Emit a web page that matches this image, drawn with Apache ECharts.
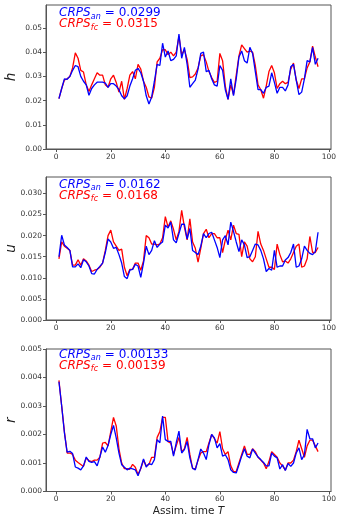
<!DOCTYPE html>
<html><head><meta charset="utf-8">
<script src="https://cdn.jsdelivr.net/npm/echarts@6/dist/echarts.min.js"></script>
<style>html,body{margin:0;padding:0;background:#fff}#c{width:337px;height:515px}</style>
</head><body><div id="c"></div>
<script>
const steps = [1,2,3,4,5,6,7,8,9,10,11,12,13,14,15,16,17,18,19,20,21,22,23,24,25,26,27,28,29,30,31,32,33,34,35,36,37,38,39,40,41,42,43,44,45,46,47,48,49,50,51,52,53,54,55,56,57,58,59,60,61,62,63,64,65,66,67,68,69,70,71,72,73,74,75,76,77,78,79,80,81,82,83,84,85,86,87,88,89,90,91,92,93,94,95,96];

const hAn = [.0208,.025,.029,.0288,.030,.0325,.0345,.034,.030,.028,.0265,.0222,.025,.0265,.0276,.0276,.0276,.0272,.0255,.027,.027,.026,.0245,.022,.0207,.022,.026,.029,.0325,.0333,.0315,.028,.022,.0186,.0215,.028,.035,.0345,.0437,.038,.0405,.0365,.037,.0385,.0475,.0375,.042,.035,.0255,.027,.0285,.033,.0395,.040,.032,.0325,.029,.0265,.026,.0345,.0325,.0245,.0205,.029,.022,.029,.038,.0405,.0365,.0355,.042,.0395,.032,.0245,.0245,.023,.0255,.026,.0315,.0275,.023,.0255,.0255,.024,.0265,.034,.035,.0285,.0225,.0235,.029,.0365,.036,.042,.035,.0375];
const hFc = [.0208,.025,.0285,.029,.030,.0335,.0397,.0375,.0325,.0318,.0265,.0238,.0265,.029,.0315,.0305,.0305,.0265,.0255,.029,.0305,.0275,.0235,.028,.0205,.025,.0305,.032,.029,.035,.033,.028,.0255,.0215,.021,.0255,.036,.0375,.041,.041,.039,.040,.0385,.040,.0465,.039,.041,.037,.0295,.0298,.031,.0335,.0385,.039,.036,.032,.0295,.0275,.028,.0395,.0365,.026,.0205,.0265,.0225,.0305,.0385,.043,.0415,.040,.0405,.040,.0345,.0265,.0245,.021,.026,.032,.0345,.0315,.025,.027,.028,.027,.0275,.033,.0355,.0285,.025,.029,.029,.0335,.036,.0425,.038,.034];

const uAn = [.015,.0201,.0178,.0172,.0165,.0126,.0126,.0133,.0124,.0143,.0138,.0128,.011,.0109,.012,.0127,.0135,.016,.0192,.0185,.017,.0172,.0155,.0135,.0103,.0098,.0118,.012,.0132,.0128,.0101,.0135,.0175,.0155,.0165,.0188,.0172,.018,.0185,.0225,.0218,.0232,.019,.0183,.0205,.0227,.0227,.0192,.0217,.0165,.016,.0155,.0175,.0205,.0195,.0205,.0208,.019,.0172,.0148,.019,.020,.0178,.0232,.021,.0185,.0162,.019,.0178,.0148,.015,.0165,.018,.0178,.0165,.0145,.0115,.0122,.0118,.0165,.0125,.0128,.0128,.0142,.0148,.016,.018,.0125,.0128,.0145,.0175,.0165,.0158,.0155,.0162,.0208];
const uFc = [.0145,.0185,.0175,.017,.0165,.013,.013,.0143,.013,.0145,.014,.013,.0115,.0118,.012,.0125,.0135,.0165,.020,.0213,.0185,.0175,.0165,.0168,.0125,.0105,.012,.012,.0135,.0135,.0118,.014,.020,.0195,.018,.018,.0178,.018,.0195,.0245,.022,.0235,.0215,.019,.021,.026,.022,.019,.024,.0185,.017,.0137,.017,.0205,.0215,.0195,.0205,.0205,.0195,.0195,.016,.019,.0213,.019,.0225,.0205,.0203,.015,.0185,.0175,.0145,.0138,.015,.021,.018,.0165,.0145,.0125,.0125,.012,.018,.0155,.0138,.014,.0135,.0145,.016,.0175,.018,.0125,.0128,.0145,.0198,.016,.016,.0172];

const rAn = [.00385,.0030,.00206,.00138,.00141,.00133,.00086,.00082,.00076,.0009,.00121,.00106,.00102,.00105,.0009,.00121,.00156,.00138,.00161,.0020,.00232,.00188,.00135,.00094,.00085,.00076,.00082,.00079,.00076,.00055,.00082,.00114,.00086,.00098,.00094,.00112,.00182,.00171,.00265,.00182,.00176,.00176,.00124,.00171,.00212,.00135,.00147,.00176,.00118,.00082,.00076,.00112,.00149,.00135,.00112,.00165,.0020,.00188,.00153,.00168,.00124,.00129,.00112,.00076,.00067,.00065,.00094,.00124,.0015,.00124,.00118,.00149,.00135,.00121,.00112,.00102,.0009,.0009,.00135,.00124,.00118,.00079,.00094,.00074,.00098,.00088,.0010,.00135,.00153,.00112,.00129,.00218,.00185,.00185,.00153,.0017];
const rFc = [.0039,.0030,.0021,.00135,.00135,.0013,.0011,.00102,.00095,.00088,.00118,.00108,.00105,.0011,.0011,.0012,.0017,.00172,.0016,.0021,.0026,.0023,.0015,.0010,.0008,.0008,.00078,.00095,.00085,.0006,.0008,.0011,.0009,.00095,.0012,.0012,.0019,.0021,.0026,.0026,.00175,.0017,.0013,.0016,.0019,.0014,.0015,.0019,.0013,.0008,.0008,.0011,.00135,.0014,.0014,.0017,.0020,.00185,.0017,.0021,.0015,.0013,.0014,.0009,.0007,.0007,.0010,.0013,.0016,.0013,.0013,.0015,.0014,.0012,.0011,.0010,.0008,.00105,.0014,.0013,.0012,.0010,.0009,.00075,.0010,.0010,.0011,.0014,.0018,.0015,.0012,.0016,.0018,.0018,.0016,.0014];

const xTicks = [0,20,40,60,80,100];
const hTicks = [0,0.01,0.02,0.03,0.04,0.05];
const uTicks = [0,0.005,0.010,0.015,0.020,0.025,0.030];
const rTicks = [0,0.001,0.002,0.003,0.004,0.005];
const varNames = ['h','u','r'];
const crpsAn = ['0.0299','0.0162','0.00133'];
const crpsFc = ['0.0315','0.0168','0.00139'];
const xLabel = 'Assim. time';

const FONT = 'DejaVu Sans';
const AX = '#555';
const grids = [
  {left:46, width:285, top:5, height:144},
  {left:46, width:285, top:177, height:143},
  {left:46, width:285, top:349, height:142.5}
];
const yMax = [0.0595, 0.0339, 0.005];
const yTicks = [hTicks, uTicks, rTicks];
const yDec = [2,3,3];
const series = [[hAn,hFc],[uAn,uFc],[rAn,rFc]];

const chart = echarts.init(document.getElementById('c'), null, {renderer:'canvas'});
const xAxes = [], yAxes = [], ser = [];
grids.forEach((g,i)=>{
  g.show = true; g.borderColor = AX; g.borderWidth = 1; g.containLabel = false; g.outerBoundsMode = 'none';
  xAxes.push({
    type:'value', gridIndex:i, min:-3.75, max:100.75,
    axisLine:{show:true, onZero:false, lineStyle:{color:AX, width:1}},
    axisTick:{show:true, length:3, inside:false, customValues:xTicks, lineStyle:{color:AX}},
    axisLabel:{show:true, customValues:xTicks, fontFamily:FONT, fontSize:7.5, color:'#333', margin:4},
    splitLine:{show:false},
    name: i===2 ? xLabel + ' {it|T}' : '',
    nameLocation:'middle', nameGap:14, nameMoveOverlap:false,
    nameTextStyle:{fontFamily:FONT, fontSize:10.5, color:'#222', rich:{it:{fontStyle:'italic', fontFamily:FONT, fontSize:10.5, color:'#222'}}}
  });
  yAxes.push({
    type:'value', gridIndex:i, min:0, max:yMax[i],
    axisLine:{show:true, onZero:false, lineStyle:{color:AX, width:1}},
    axisTick:{show:true, length:3, customValues:yTicks[i], lineStyle:{color:AX}},
    axisLabel:{show:true, customValues:yTicks[i], fontFamily:FONT, fontSize:7.5, color:'#333', margin:4,
      formatter:(v)=>Number(v).toFixed(yDec[i])},
    splitLine:{show:false},
    name: varNames[i], nameLocation:'middle', nameRotate:90, nameGap:28, nameMoveOverlap:false,
    nameTextStyle:{fontFamily:FONT, fontSize:13.5, fontStyle:'italic', color:'#222'}
  });
  const [an, fc] = series[i];
  ser.push({type:'line', xAxisIndex:i, yAxisIndex:i, data: steps.map((t,k)=>[t, fc[k]]),
    showSymbol:false, lineStyle:{color:'#ff0000', width:1.3}, z:2, animation:false});
  ser.push({type:'line', xAxisIndex:i, yAxisIndex:i, data: steps.map((t,k)=>[t, an[k]]),
    showSymbol:false, lineStyle:{color:'#0000ff', width:1.3}, z:3, animation:false});
});

const ctx = document.createElement('canvas').getContext('2d');
function w(text, font){ ctx.font = font; return ctx.measureText(text).width; }
const mainF = 'italic 12px "'+FONT+'"';
const subF = 'italic 8px "'+FONT+'"';
const numF = '12px "'+FONT+'"';
const graphics = [];
const baseOff = [12.5, 12, 10];
function addLine(x, baseline, sub, val, color){
  let cx = x;
  graphics.push({type:'text', x:cx, y:baseline - 4.2, style:{text:'CRPS', font:mainF, fill:color, verticalAlign:'middle'}});
  cx += w('CRPS', mainF) + 0.3;
  graphics.push({type:'text', x:cx, y:baseline + 2 - 2.8, style:{text:sub, font:subF, fill:color, verticalAlign:'middle'}});
  cx += w(sub, subF) + 4;
  graphics.push({type:'text', x:cx, y:baseline - 4.2, style:{text:'= ' + val, font:numF, fill:color, verticalAlign:'middle'}});
}
grids.forEach((g,i)=>{
  const b = g.top + baseOff[i];
  addLine(59, b, 'an', crpsAn[i], '#0000ff');
  addLine(59, b + 11, 'fc', crpsFc[i], '#ff0000');
});

chart.setOption({
  animation:false,
  grid: grids, xAxis: xAxes, yAxis: yAxes, series: ser,
  graphic: graphics
});
</script>
</body></html>
